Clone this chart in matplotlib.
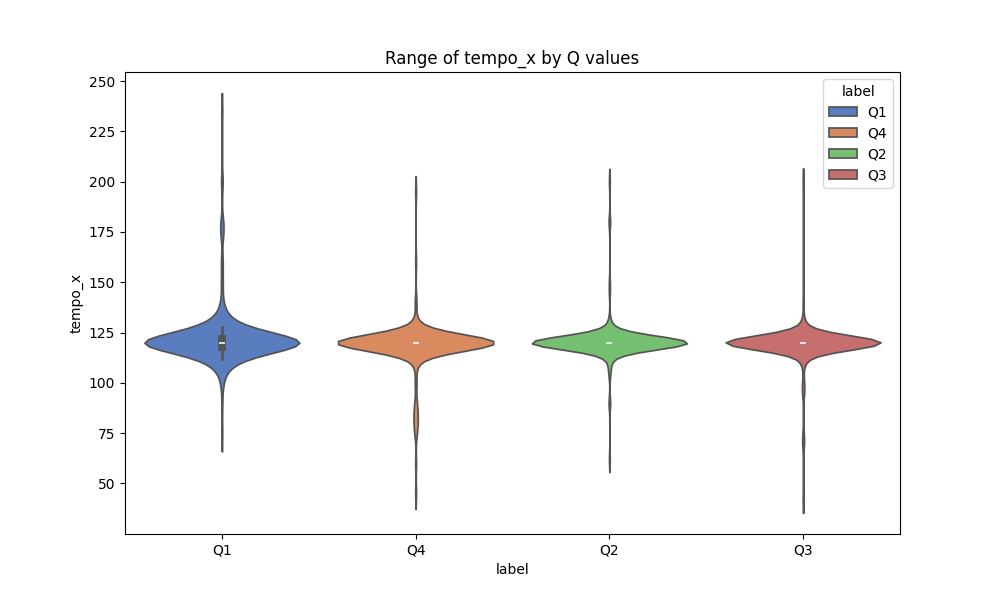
import numpy as np
import pandas as pd
import matplotlib
matplotlib.use("Agg")
import matplotlib.pyplot as plt
import seaborn as sns

order = ["Q1", "Q4", "Q2", "Q3"]

# tempo values and how often each one occurs, per quarter
q1_vals = [75, 90, 100, 105, 110, 112, 115, 118, 120, 122, 125, 128, 130, 135, 140, 150, 160, 175, 180, 200, 235]
q1_cnts = [1, 1, 2, 4, 8, 12, 20, 30, 120, 30, 20, 12, 8, 4, 2, 2, 2, 3, 2, 2, 1]
q4_vals = [45, 60, 75, 80, 85, 90, 100, 110, 115, 118, 120, 122, 125, 130, 140, 160, 195]
q4_cnts = [1, 1, 2, 3, 3, 2, 2, 3, 10, 25, 150, 25, 10, 3, 2, 1, 1]
q2_vals = [62, 90, 105, 110, 115, 118, 120, 122, 125, 130, 145, 150, 180, 200]
q2_cnts = [1, 2, 2, 3, 8, 25, 160, 25, 8, 3, 1, 1, 2, 1]
q3_vals = [42, 70, 75, 95, 100, 110, 115, 118, 120, 122, 125, 130, 140, 200]
q3_cnts = [1, 2, 1, 2, 2, 3, 8, 25, 150, 25, 8, 3, 1, 1]

groups = {"Q1": (q1_vals, q1_cnts), "Q4": (q4_vals, q4_cnts),
          "Q2": (q2_vals, q2_cnts), "Q3": (q3_vals, q3_cnts)}
frames = []
for lab in order:
    v, c = groups[lab]
    frames.append(pd.DataFrame({"label": lab, "tempo_x": np.repeat(v, c)}))
df = pd.concat(frames, ignore_index=True)

fig, ax = plt.subplots(figsize=(10, 6), dpi=100)
sns.violinplot(data=df, x="label", y="tempo_x", hue="label", order=order, hue_order=order,
               palette="muted", density_norm="width", legend=True, ax=ax)
ax.set_title("Range of tempo_x by Q values")
ax.set_yticks([50, 75, 100, 125, 150, 175, 200, 225, 250])
sns.move_legend(ax, "upper right", title="label")
fig.savefig("out.png")
